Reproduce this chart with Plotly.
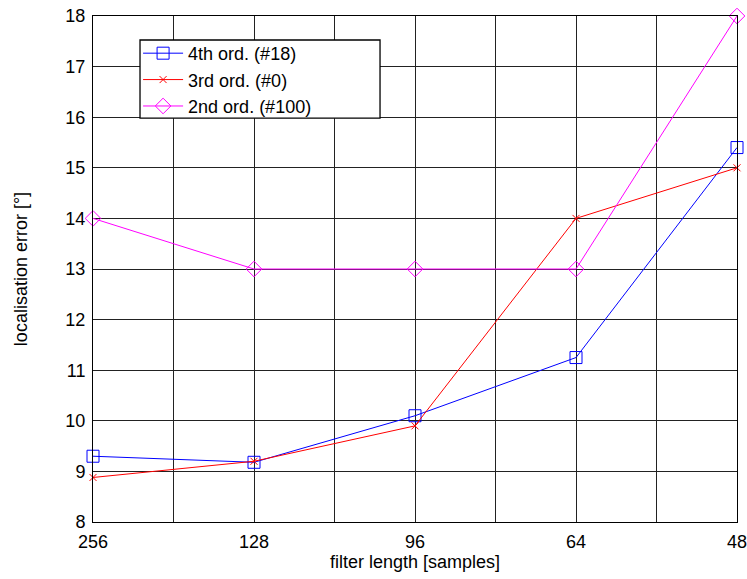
import plotly.graph_objects as go

filter_lengths = ["256", "128", "96", "64", "48"]
err_4th = [9.3, 9.18, 10.1, 11.25, 15.4]
err_3rd = [8.88, 9.2, 9.9, 14.0, 15.0]
err_2nd = [14.0, 13.0, 13.0, 13.0, 18.0]
y_ticks = list(range(8, 19))

xpos = list(range(len(filter_lengths)))
xtickvals = [i * 0.5 for i in range(2 * (len(filter_lengths) - 1) + 1)]
xticktext = [filter_lengths[int(v)] if v == int(v) else "" for v in xtickvals]

FONT = "Liberation Sans, Arial, sans-serif"

fig = go.Figure()
fig.add_trace(go.Scatter(x=xpos, y=err_4th, mode="lines+markers", name="4th ord. (#18)",
                         cliponaxis=False,
                         line=dict(color="#0000ff", width=1),
                         marker=dict(symbol="square-open", size=12, color="#0000ff", line=dict(width=1))))
fig.add_trace(go.Scatter(x=xpos, y=err_3rd, mode="lines+markers", name="3rd ord. (#0)",
                         cliponaxis=False,
                         line=dict(color="#ff0000", width=1),
                         marker=dict(symbol="x-thin-open", size=7, color="#ff0000", line=dict(width=1, color="#ff0000"))))
fig.add_trace(go.Scatter(x=xpos, y=err_2nd, mode="lines+markers", name="2nd ord. (#100)",
                         cliponaxis=False,
                         line=dict(color="#ff00ff", width=1),
                         marker=dict(symbol="diamond-open", size=12, color="#ff00ff", line=dict(width=1))))

# legend frame (drawn as a shape so it can be wider than the entries)
fig.add_shape(type="rect", xref="paper", yref="paper",
              x0=0.073, x1=0.4457, y0=0.798, y1=0.9526,
              line=dict(color="black", width=1.3), fillcolor="white", layer="above")

fig.update_layout(
    width=747, height=579,
    margin=dict(l=93, r=10, t=16, b=57, autoexpand=False),
    paper_bgcolor="white", plot_bgcolor="white",
    font=dict(family=FONT, size=18, color="black"),
    showlegend=True,
    legend=dict(x=0.07, y=0.9625, xanchor="left", yanchor="top",
                bgcolor="rgba(0,0,0,0)", borderwidth=0,
                font=dict(size=18), tracegroupgap=0, itemwidth=40),
)
fig.update_xaxes(range=[0, len(filter_lengths) - 1], tickvals=xtickvals, ticktext=xticktext,
                 showgrid=True, gridcolor="#222222", gridwidth=1,
                 showline=True, linecolor="black", linewidth=1, mirror=True,
                 ticks="outside", ticklen=3, tickcolor="rgba(0,0,0,0)",
                 ticklabeloverflow="allow",
                 zeroline=False, tickfont=dict(size=18), automargin=False,
                 title=dict(text="filter length [samples]", font=dict(size=18), standoff=4))
fig.update_yaxes(range=[8, 18], tickvals=y_ticks,
                 showgrid=True, gridcolor="#222222", gridwidth=1,
                 showline=True, linecolor="black", linewidth=1, mirror=True,
                 ticks="outside", ticklen=3, tickcolor="rgba(0,0,0,0)",
                 ticklabeloverflow="allow",
                 zeroline=False, tickfont=dict(size=18), automargin=False,
                 title=dict(text="localisation error [°]", font=dict(size=18), standoff=33))

fig.write_html("out.html", config={"displayModeBar": False},
               post_script="document.body.style.margin='0';document.body.style.padding='0';")
